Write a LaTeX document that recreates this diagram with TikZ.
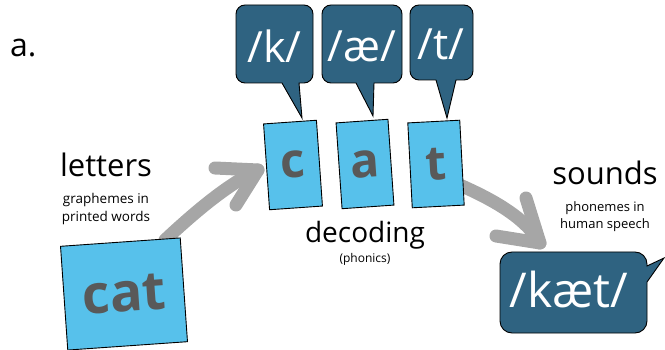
\documentclass[tikz,border=0pt]{standalone}
\usepackage{fontspec}
\setmainfont{Open Sans}
\newcommand{\myfs}[1]{\fontsize{#1}{#1}\selectfont}
\definecolor{lblue}{HTML}{57C1EB}
\definecolor{dblue}{HTML}{2F6381}
\definecolor{agray}{HTML}{A6A6A6}
\definecolor{tgray}{HTML}{595959}
\begin{document}
\begin{tikzpicture}[x=1pt,y=-1pt,
 lbox/.style={draw=black, line width=0.9pt, fill=lblue, text=tgray, inner sep=0pt, font=\bfseries\myfs{48}},
 bub/.style={draw=black, line width=0.9pt, fill=dblue},
 btext/.style={text=white, inner sep=0pt, font=\myfs{43}},
 garrow/.style={draw=agray, line width=13pt, line cap=round, line join=round},
 lbl/.style={inner sep=0pt, text=black, anchor=base},
]
\useasboundingbox (0,0) rectangle (665,350);
% gray arrows
\coordinate (la0) at (165,240);
\coordinate (la1) at (258,170);
\coordinate (la2) at (215,168);
\coordinate (la3) at (236,205);
\draw[garrow] (la0) .. controls (195,212) and (228,184) .. (la1);
\draw[garrow] (la2) -- (la1) -- (la3);
\coordinate (ra0) at (462,186);
\coordinate (ra1) at (540,243);
\coordinate (ra2) at (526,198);
\coordinate (ra3) at (496,236);
\draw[garrow] (ra0) .. controls (498,202) and (527,220) .. (ra1);
\draw[garrow] (ra2) -- (ra1) -- (ra3);
% letter boxes
\node[lbox, minimum width=53pt, minimum height=86pt, rotate=4] (bc) at (293,165) {c};
\node[lbox, minimum width=52pt, minimum height=86pt, rotate=4] (ba) at (365,164) {a};
\node[lbox, minimum width=52pt, minimum height=85pt, rotate=3] (bt) at (436,164) {t};
\node[lbox, minimum width=120pt, minimum height=104pt, rotate=4, font=\bfseries\myfs{54}] (bcat) at (124,294) {cat};
% bubbles
\draw[bub] (282,83) [rounded corners=9pt] -- (236,83) -- (236,5) -- (313,5) -- (313,83) [sharp corners] -- (299,83) -- (302,118) -- cycle;
\draw[bub] (356,83) [rounded corners=9pt] -- (322,83) -- (322,5) -- (402,5) -- (402,83) [sharp corners] -- (374,83) -- (373,116) -- cycle;
\draw[bub] (436,80) [rounded corners=9pt] -- (410,80) -- (410,5) -- (473,5) -- (473,80) [sharp corners] -- (456,80) -- (447,118) -- cycle;
\draw[bub] (647,282) [rounded corners=12pt] -- (647,333) -- (500,333) -- (500,252) -- (647,252) [sharp corners] -- (647,266) -- (664,258) -- cycle;
\node[btext] (tk) at (274.5,46) {/k/};
\node[btext] (tae) at (362,46) {/æ/};
\node[btext] (tt) at (441,44) {/t/};
\node[btext, font=\myfs{48}] (tkaet) at (569,290) {/kæt/};
% labels
\node[lbl, anchor=base west, font=\myfs{32}] (la) at (10,57) {a.};
\node[lbl, font=\myfs{31}] (lletters) at (106,177) {letters};
\node[lbl, font=\myfs{13.5}] (lg1) at (106,204) {graphemes in};
\node[lbl, font=\myfs{13.5}] (lg2) at (106,222) {printed words};
\node[lbl, font=\myfs{31}] (lsounds) at (605,185) {sounds};
\node[lbl, font=\myfs{13}] (lp1) at (605,212) {phonemes in};
\node[lbl, font=\myfs{13}] (lp2) at (605,229) {human speech};
\node[lbl, font=\myfs{28}] (ldec) at (365,243) {decoding};
\node[lbl, font=\myfs{12}] (lphon) at (365,262) {(phonics)};
\end{tikzpicture}
\end{document}
